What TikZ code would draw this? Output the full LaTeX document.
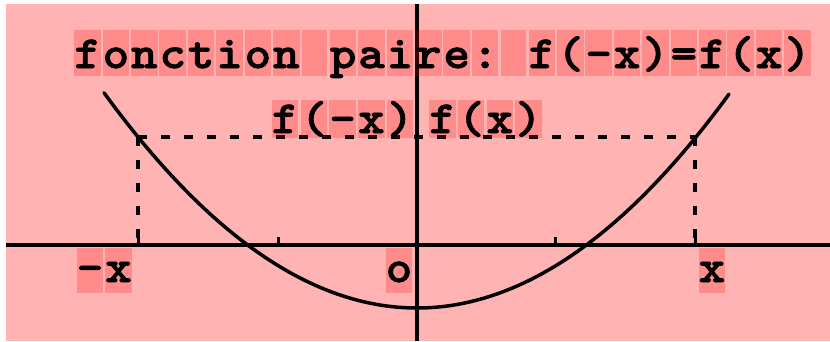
\documentclass[tikz,border=0pt]{standalone}
\usepackage{fontspec}
\newfontfamily\cour{lmmonolt10-bold.otf}[FakeBold=1.6,FakeStretch=1.1]
\definecolor{bgpink}{RGB}{255,179,179}
\definecolor{boxred}{RGB}{255,0,0}
\begin{document}
\begin{tikzpicture}[x=1pt,y=-1pt,
  axis/.style={line width=3.5pt,black},
  curve/.style={line width=3.5pt,black,line cap=round},
  dotline/.style={line width=3.5pt,black,dash pattern=on 9pt off 14pt},
  tick/.style={line width=3pt,black},
  chbox/.style={fill=boxred,fill opacity=0.22,text opacity=1,inner sep=0pt,
    minimum width=24.5pt,font=\cour\fontsize{46}{46}\selectfont,anchor=base},
  rowA/.style={chbox,text height=38pt,text depth=8pt},
  rowB/.style={chbox,text height=33pt,text depth=5pt},
  rowC/.style={chbox,text height=34pt,text depth=11pt}]
\useasboundingbox (0,0) rectangle (830,341);
\fill[white] (0,0) rectangle (830,341);
\fill[bgpink] (6,4) rectangle (830,341);
% dashed guides
\coordinate (pl) at (138,137);
\coordinate (pr) at (695,137);
\coordinate (bl) at (138,244);
\coordinate (br) at (695,244);
\draw[dotline] (pl) -- (pr);
\draw[dotline] (pl) -- (bl);
\draw[dotline] (pr) -- (br);
% axes
\coordinate (xa) at (6,245);
\coordinate (xb) at (830,245);
\coordinate (ya) at (417,4);
\coordinate (yb) at (417,341);
\draw[axis] (xa) -- (xb);
\draw[axis] (ya) -- (yb);
% ticks
\draw[tick] (278,245) -- (278,237);
\draw[tick] (555,245) -- (555,237);
\draw[tick] (138,245) -- (138,237);
\draw[tick] (695,245) -- (695,237);
% parabola
\draw[curve] plot[domain=104:729,samples=80,smooth] (\x,{308-(0.046872*(\x-417))^2});
% title row
\foreach \c [count=\i from 0] in {{f},{o},{n},{c},{t},{i},{o},{n},{},{p},{a},{i},{r},{e},{:},{},{f},{(},{-},{x},{)},{=},{f},{(},{x},{)}}
  \node[rowA] (t\i) at ({87.5+28.4*\i},68) {\c};
% f(-x)
\foreach \c [count=\i from 0] in {{f},{(},{-},{x},{)}}
  \node[rowB] (l\i) at ({285+28.8*\i},133) {\c};
% f(x)
\foreach \c [count=\i from 0] in {{f},{(},{x},{)}}
  \node[rowB] (r\i) at ({442.5+28.7*\i},133) {\c};
% axis labels
\node[rowC] (mx1) at (90,282) {-};
\node[rowC] (mx2) at (118.5,282) {x};
\node[rowC] (orig) at (399,282) {o};
\node[rowC] (px) at (712,282) {x};
\end{tikzpicture}
\end{document}
